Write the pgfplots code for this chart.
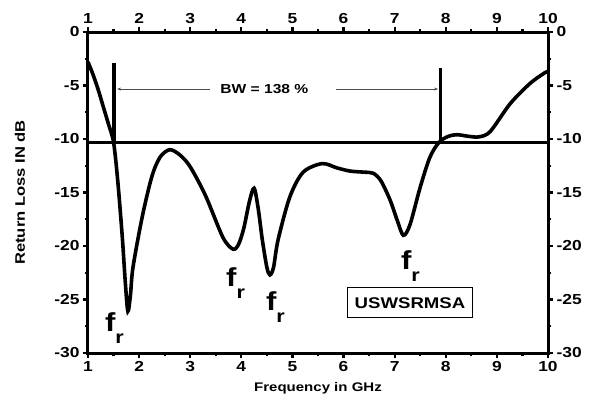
\documentclass[border=0pt]{standalone}
\usepackage{fontspec}
\setmainfont{Liberation Sans}[FakeStretch=1.2]
\usepackage{pgfplots}
\pgfplotsset{compat=1.18}
\usetikzlibrary{arrows.meta}

% Measured return loss of the USWSRMSA antenna
\pgfplotstableread{
f     s11
1.00  -2.8
1.10  -4.0
1.20  -5.4
1.30  -7.0
1.40  -8.6
1.50  -10.3
1.58  -13.8
1.67  -19.1
1.73  -23.4
1.78  -26.1
1.83  -24.6
1.88  -22.0
2.06  -17.3
2.25  -13.5
2.41  -11.7
2.60  -11.0
2.80  -11.5
3.00  -12.6
3.30  -15.3
3.64  -19.2
3.84  -20.3
3.95  -19.8
4.05  -18.3
4.16  -15.8
4.25  -14.6
4.33  -16.5
4.41  -19.4
4.50  -22.0
4.56  -22.7
4.63  -22.0
4.72  -19.4
4.95  -15.4
5.21  -13.1
5.58  -12.3
5.87  -12.7
6.13  -13.0
6.40  -13.1
6.58  -13.2
6.73  -13.9
6.91  -15.7
7.05  -17.6
7.17  -19.0
7.30  -18.0
7.50  -14.5
7.69  -11.7
7.87  -10.3
8.05  -9.75
8.22  -9.6
8.45  -9.75
8.65  -9.8
8.87  -9.3
9.26  -6.7
9.65  -4.8
9.94  -3.8
10.00 -3.7
}\rldata

\newcommand{\fr}{{\fontsize{26}{26}\selectfont\bfseries f}\raisebox{-12pt}{\fontsize{18}{18}\selectfont\bfseries r}}

\begin{document}
\begin{tikzpicture}
\pgfplotsset{
  common/.style={
    at={(0,0)}, anchor=south west,
    scale only axis, width=460pt, height=321pt,
    xmin=1, xmax=10, ymin=-30, ymax=0,
    xtick={1,2,3,4,5,6,7,8,9,10},
    ytick={-30,-25,-20,-15,-10,-5,0},
    xticklabels={1,2,3,4,5,6,7,8,9,10},
    yticklabels={-30,-25,-20,-15,-10,-5,0},
    minor x tick num=1, minor y tick num=1,
    tick align=outside,
    major tick length=5pt, minor tick length=3pt,
    axis line style={line width=3pt},
    every tick/.style={black, line width=2.2pt},
    tick label style={font=\fontsize{14.5}{16}\selectfont\bfseries},
    clip=false,
  }
}
\begin{axis}[common,
  xtick pos=both, ytick pos=both,
  xticklabel pos=lower, yticklabel pos=left,
  xlabel={Frequency in GHz},
  ylabel={Return Loss IN dB},
  xlabel style={font=\fontsize{12.5}{14}\selectfont\bfseries,
                at={(axis description cs:0.5,-0.11)}, anchor=center},
  ylabel style={font=\fontsize{13.8}{15}\selectfont\bfseries,
                at={(axis description cs:-0.148,0.5)}, anchor=center},
]
  % -10 dB reference and band edges
  \addplot[black, line width=3pt] coordinates {(1,-10.3) (10,-10.3)};
  \addplot[black, line width=3.2pt] coordinates {(1.51,-2.9) (1.51,-10.3)};
  \addplot[black, line width=3.2pt] coordinates {(7.89,-3.4) (7.89,-10.3)};
  % bandwidth arrows
  \addplot[gray!60!black, line width=1pt, -{Stealth[length=4pt,width=3pt]}] coordinates {(3.39,-5.33) (1.57,-5.33)};
  \addplot[gray!60!black, line width=1pt, -{Stealth[length=4pt,width=3pt]}] coordinates {(5.85,-5.33) (7.85,-5.33)};
  \node[font=\fontsize{13}{15}\selectfont\bfseries] at (axis cs:4.45,-5.33) {BW = 138 \%};
  % return loss curve
  \addplot[black, line width=3.6pt, smooth, tension=0.5] table[x=f, y=s11] {\rldata};
  % resonances
  \node[anchor=base west, inner sep=0pt] at (axis cs:1.33,-28.0) {\fr};
  \node[anchor=base west, inner sep=0pt] at (axis cs:3.70,-23.8) {\fr};
  \node[anchor=base west, inner sep=0pt] at (axis cs:4.48,-26.0) {\fr};
  \node[anchor=base west, inner sep=0pt] at (axis cs:7.12,-22.2) {\fr};
  \node[draw, line width=0.9pt, minimum width=125pt, minimum height=30pt,
        font=\fontsize{15.5}{18}\selectfont\bfseries] at (axis cs:7.30,-25.3) {USWSRMSA};
\end{axis}
\begin{axis}[common,
  xtick pos=both, ytick pos=both,
  xticklabel pos=upper, yticklabel pos=right,
]
\end{axis}
\pgfresetboundingbox
\path (-88pt,-57pt) rectangle (509pt,353pt);
\end{tikzpicture}
\end{document}
